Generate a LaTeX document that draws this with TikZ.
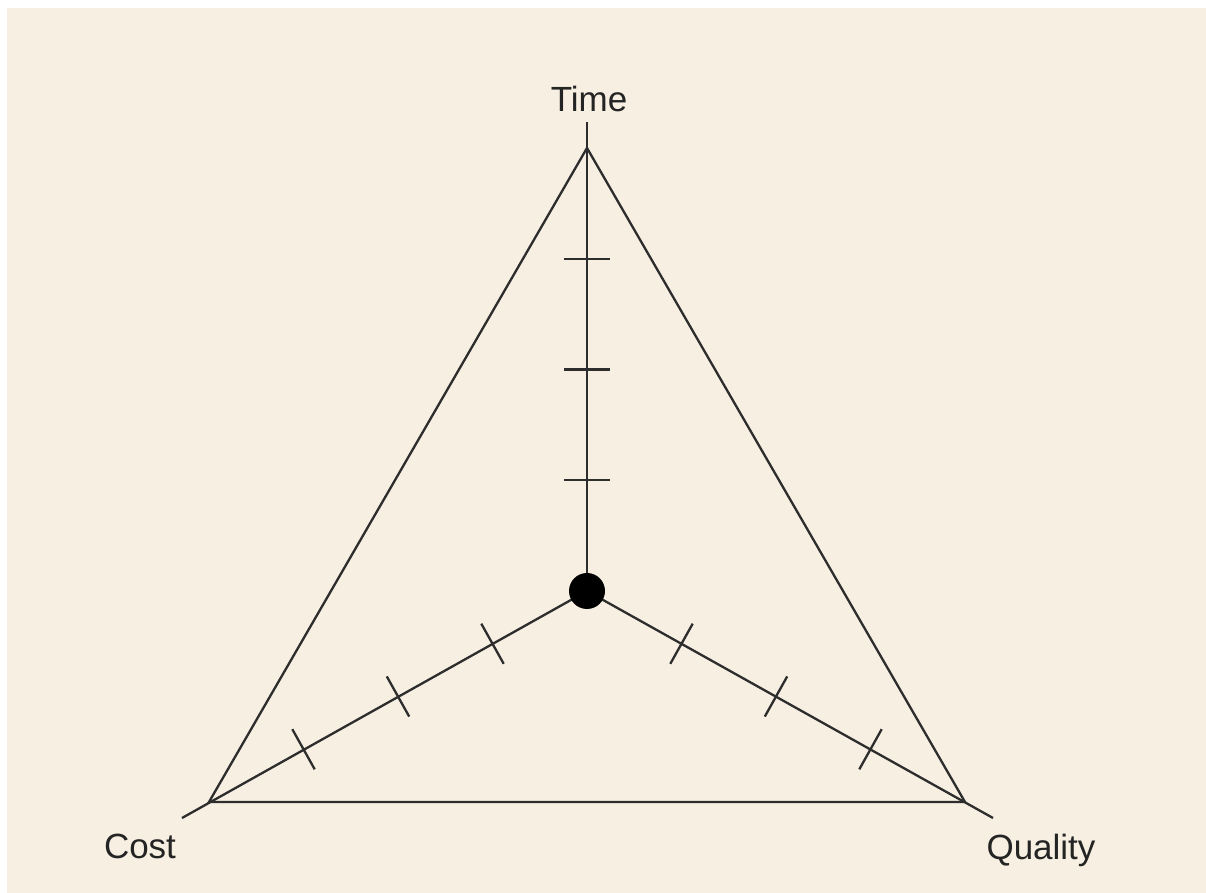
\documentclass[tikz,border=0pt]{standalone}
\usepackage{fontspec}
\setmainfont{Liberation Sans}
\usetikzlibrary{calc}
\definecolor{paper}{RGB}{247,239,225}
\definecolor{ink}{RGB}{45,45,45}
\tikzset{
    axisline/.style={ink, line width=1.15pt},
    tickmark/.style={ink, line width=1.15pt},
    cornerlabel/.style={anchor=base, font=\fontsize{17.5}{21}\selectfont, text=ink!80!black},
}
\begin{document}
\begin{tikzpicture}[x=0.5pt, y=-0.5pt]
    %background
    \useasboundingbox (0,0) rectangle (1206,893);
    \fill[white] (0,0) rectangle (1206,893);
    \fill[paper] (7,8) rectangle (1206,893);

    %corners
    \coordinate (o) at (587,591);
    \coordinate (time) at (587,148);
    \coordinate (cost) at (209,802);
    \coordinate (quality) at (965,802);
    \coordinate (timeend) at (587,122);
    \coordinate (costend) at (182,818);
    \coordinate (qualityend) at (993,818);

    %triangle
    \draw[axisline] (time) -- (quality) -- (cost) -- cycle;

    %axis
    \draw[axisline] (o) -- (timeend);
    \draw[axisline] (o) -- (costend);
    \draw[axisline] (o) -- (qualityend);

    %ticks
    \foreach \c in {time, cost, quality}
        \foreach \f in {0.25, 0.5, 0.75}
            \draw[tickmark] ($(o)!\f!(\c)!11.5pt!90:(\c)$) -- ($(o)!\f!(\c)!11.5pt!-90:(\c)$);

    %center
    \node[circle, fill=black, inner sep=0pt, minimum size=18pt] (dot) at (o) {};

    %labels
    \node[cornerlabel] (timelabel) at (589,112) {Time};
    \node[cornerlabel] (costlabel) at (140,858) {Cost};
    \node[cornerlabel] (qualitylabel) at (1041,859) {Quality};
\end{tikzpicture}
\end{document}
